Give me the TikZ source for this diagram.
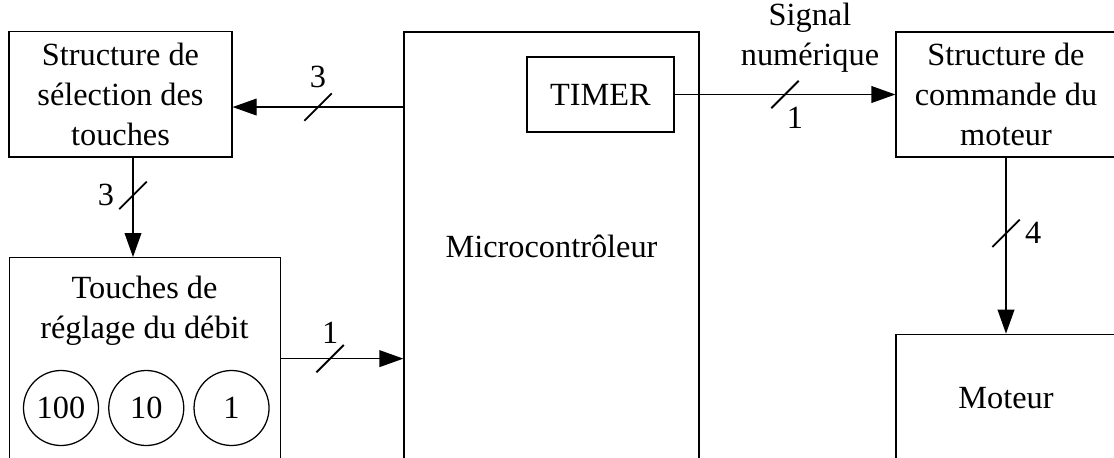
\documentclass[tikz,border=0pt]{standalone}
\usepackage{fontspec}
\setmainfont{Liberation Serif}
\usetikzlibrary{shapes.misc, arrows.meta, positioning}

\begin{document}
\begin{tikzpicture}[
        font=\fontsize{23}{28.5}\selectfont,
        line width=0.9pt,
        block/.style={draw, align=center, inner sep=0pt},
        key/.style={draw, circle, minimum size=1.875cm, inner sep=0pt},
        sig/.style={-{Triangle[length=0.6cm, width=0.42cm]}},
        bus/.style={draw, strike out, minimum size=0.64cm, inner sep=0pt, line width=1.3pt}
    ]

    \useasboundingbox (0,0) rectangle (27.85,-11.425);
    \clip (0,0) rectangle (27.85,-11.425);

    % --- Nodes ---
    \node[block, minimum width=5.575cm, minimum height=3.1375cm] (sel) at (3.0125,-2.356) {Structure de\\sélection des\\touches};
    \node[block, minimum width=7.375cm, minimum height=10.7cm] (micro) at (13.7875,-6.15) {Microcontrôleur};
    \node[block, minimum width=3.675cm, minimum height=1.875cm] (timer) at (15.0125,-2.3625) {TIMER};
    \node[block, minimum width=5.5cm, minimum height=3.125cm] (cmd) at (25.15,-2.3625) {Structure de\\commande du\\moteur};
    \node[block, minimum width=5.5cm, minimum height=3.175cm, below=4.4cm of cmd] (mot) {Moteur};

    % touches box, text and the three keys
    \node[block, anchor=north west, minimum width=6.775cm, minimum height=5.05cm] (touches) at (0.225,-6.425) {};
    \node[align=center] (touchestxt) at (3.6125,-7.775) {Touches de\\réglage du débit};
    \node[key] (k100) at (1.525,-10.2) {100};
    \node[key, right=0.225cm of k100] (k10) {10};
    \node[key, right=0.225cm of k10] (k1) {1};

    \node[align=center] (sigtxt) at (20.25,-0.95) {Signal\\numérique};

    % --- Connections & Labels ---
    \coordinate (selin) at ([yshift=-0.32cm]sel.east);
    \draw[sig] (micro.west |- selin) -- node[bus, label=above:3] {} (selin);

    \coordinate (selout) at ([xshift=0.3125cm]sel.south);
    \draw[sig] (selout) -- node[bus, pos=0.38, label=left:3] {} (selout |- touches.north);

    \draw[sig] (touches.east) -- node[bus, pos=0.4, label={[label distance=-0.1cm]above:1}] {} (micro.west |- touches.east);

    \draw[sig] (timer.east) -- node[bus, label={[xshift=0.25cm, label distance=-0.15cm]below:1}] {} (cmd.west);

    \draw[sig] (cmd.south) -- node[bus, pos=0.43, label=right:4] {} (mot.north);

\end{tikzpicture}
\end{document}
